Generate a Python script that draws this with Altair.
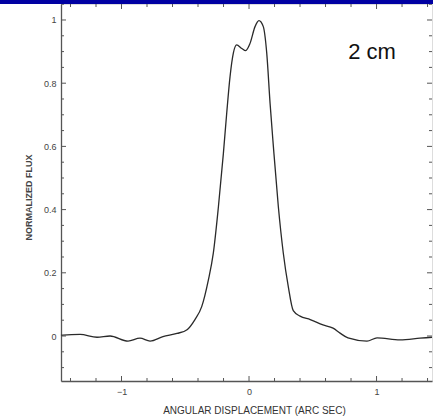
import altair as alt
import pandas as pd

# Angular profile of the 2 cm source: offset (arcsec) vs. normalized flux
offset_arcsec = [-1.475, -1.459, -1.325, -1.192, -1.09, -0.949, -0.855, -0.776, -0.675,
                 -0.565, -0.486, -0.424, -0.371, -0.319, -0.280, -0.240, -0.201,
                 -0.175, -0.149, -0.123, -0.097, -0.057, -0.026, 0.008, 0.047, 0.078,
                 0.112, 0.139, 0.165, 0.191, 0.230, 0.269, 0.308, 0.347, 0.400,
                 0.480, 0.580, 0.659, 0.714, 0.776, 0.925, 1.004, 1.184, 1.341, 1.435]
norm_flux = [0.002, 0.003, 0.005, -0.004, 0.0, -0.016, -0.007, -0.016, -0.002,
             0.008, 0.020, 0.052, 0.093, 0.177, 0.262, 0.409, 0.578,
             0.705, 0.820, 0.895, 0.921, 0.910, 0.903, 0.926, 0.979, 0.998,
             0.979, 0.895, 0.737, 0.600, 0.409, 0.262, 0.156, 0.080, 0.063,
             0.052, 0.035, 0.025, 0.009, -0.006, -0.016, -0.006, -0.012, -0.007, -0.004]

x_major = [-1, 0, 1]
x_minor = [-1.4, -1.2, -0.8, -0.6, -0.4, -0.2, 0.2, 0.4, 0.6, 0.8, 1.2, 1.4]
y_major = [0, 0.2, 0.4, 0.6, 0.8, 1.0]
y_minor = [-0.1, -0.05, 0.05, 0.1, 0.15, 0.25, 0.3, 0.35, 0.45, 0.5, 0.55,
           0.65, 0.7, 0.75, 0.85, 0.9, 0.95, 1.05]

W, H = 371, 377
X_DOM = [-1.4745, 1.435]
Y_DOM = [-0.1424, 1.0506]

xs = alt.Scale(domain=X_DOM, nice=False, zero=False)
ys = alt.Scale(domain=Y_DOM, nice=False, zero=False)

profile = pd.DataFrame({"x": offset_arcsec, "y": norm_flux})

line = alt.Chart(profile).mark_line(color="#2a2a2a", strokeWidth=1.3, interpolate="monotone").encode(
    x=alt.X("x:Q", scale=xs, axis=alt.Axis(
        values=x_major, format="d", ticks=False, grid=False,
        domainColor="#555", domainWidth=1.3,
        labelFont="Liberation Sans", labelFontSize=9, labelColor="#444", labelPadding=6,
        title="ANGULAR DISPLACEMENT (ARC SEC)", titleFont="Liberation Sans",
        titleFontSize=10, titleFontWeight="normal", titleColor="#333",
        titleX=193, titleY=29, titleBaseline="middle", titleAlign="center")),
    y=alt.Y("y:Q", scale=ys, axis=alt.Axis(
        values=y_major, ticks=False, grid=False,
        labelExpr="datum.value == 0 ? '0' : datum.value == 1 ? '1' : format(datum.value, '.1f')",
        domainColor="#555", domainWidth=1.3,
        labelFont="Liberation Sans", labelFontSize=9, labelColor="#444", labelPadding=5,
        title="NORMALIZED FLUX", titleFont="Liberation Sans", titleFontSize=9,
        titleFontWeight="bold", titleColor="#444", titleAngle=270,
        titleX=-33, titleY=193, titleBaseline="middle", titleAlign="center")),
)


def xticks(vals, length, top):
    df = pd.DataFrame({"x": vals})
    if top:
        yv, y2v = 0, length
    else:
        yv, y2v = H, H - length
    return alt.Chart(df).mark_rule(color="#555", strokeWidth=1).encode(
        x=alt.X("x:Q", scale=xs), y=alt.value(yv), y2=alt.value(y2v))


def yticks(vals, length, right):
    df = pd.DataFrame({"y": vals})
    if right:
        xv, x2v = W, W - length
    else:
        xv, x2v = 0, length
    return alt.Chart(df).mark_rule(color="#555", strokeWidth=1).encode(
        y=alt.Y("y:Q", scale=ys), x=alt.value(xv), x2=alt.value(x2v))


ticks = [
    xticks(x_major, 5, False), xticks(x_minor, 3, False),
    xticks(x_major, 5, True), xticks(x_minor, 3, True),
    yticks(y_major, 5, False), yticks(y_minor, 3, False),
    yticks(y_major, 5, True), yticks(y_minor, 3, True),
]

one = alt.Data(values=[{"k": 1}])

band = alt.Chart(one).mark_rect(color="#0000a2").encode(
    x=alt.value(-61), x2=alt.value(W + 2), y=alt.value(-5), y2=alt.value(0))

label = alt.Chart(one).mark_text(
    text="2 cm", font="Liberation Sans", fontSize=22, color="#111",
    align="center", baseline="alphabetic").encode(
    x=alt.value(311), y=alt.value(55))

chart = alt.layer(line, *ticks, label, band).properties(
    width=W, height=H,
    autosize=alt.AutoSizeParams(type="none"),
    padding={"left": 61, "top": 4, "right": 1, "bottom": 36},
).configure_view(stroke=None).configure(background="white")

chart.save("out.html", embed_options={"renderer": "svg", "actions": False})
